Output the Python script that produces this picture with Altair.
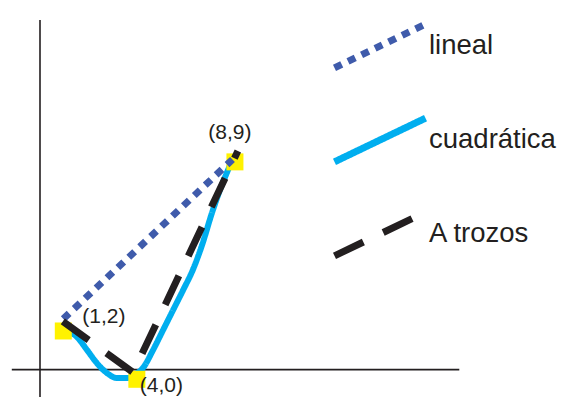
import altair as alt
import pandas as pd

# ---- data ----
series_names = ["lineal", "cuadrática", "A trozos"]
series_colors = ["#3f5bab", "#00aeef", "#231f20"]

lineal_x = [1.0, 7.9]
lineal_y = [2.5, 9.1]

cuad_x = [1.11, 1.56, 1.97, 2.37, 2.78, 3.19, 3.60, 3.96, 4.25, 4.66, 5.07, 5.48, 5.89, 6.30, 6.66, 7.06, 7.39, 7.72, 7.95]
cuad_y = [2.04, 1.75, 1.21, 0.67, 0.26, 0.05, 0.05, 0.22, 0.47, 1.21, 2.04, 2.87, 3.70, 4.57, 5.56, 6.88, 7.84, 8.67, 9.22]

trozos_x = [0.98, 3.85, 8.12]
trozos_y = [2.40, 0.28, 9.45]

point_x = [1, 4, 8]
point_y = [2, 0, 9]
point_labels = ["(1,2)", "(4,0)", "(8,9)"]

axis_v = {"x": [0.05], "y": [-1.0], "y2": [14.87]}
axis_h = {"y": [0.40], "x": [-1.10], "x2": [17.15]}

# ---- tables ----
lines_df = pd.concat([
    pd.DataFrame({"x": lineal_x, "y": lineal_y, "series": "lineal", "o": range(len(lineal_x))}),
    pd.DataFrame({"x": trozos_x, "y": trozos_y, "series": "A trozos", "o": range(len(trozos_x))}),
], ignore_index=True)
cuad_df = pd.DataFrame({"x": cuad_x, "y": cuad_y, "series": "cuadrática", "o": range(len(cuad_x))})
pts_df = pd.DataFrame({"x": point_x, "y": point_y, "label": point_labels})

FONT = "Liberation Sans"
INK = "#231f20"

xs = alt.Scale(domain=[-1.255, 21.257], nice=False, zero=False)
ys = alt.Scale(domain=[-0.733, 15.37], nice=False, zero=False)

leg = alt.Legend(
    orient="none", legendX=323, legendY=-11, title=None, padding=0,
    symbolType="M-1,0.48L1,-0.48", symbolSize=8281, symbolStrokeWidth=7,
    labelFontSize=27.5, labelFont=FONT, labelColor=INK, labelOffset=0,
    rowPadding=9, labelLimit=300,
)
color = alt.Color("series:N", scale=alt.Scale(domain=series_names, range=series_colors), legend=leg)
dash = alt.StrokeDash("series:N", scale=alt.Scale(domain=series_names, range=[[8, 7], [1, 0], [32, 22]]), legend=leg)

v_rule = alt.Chart(pd.DataFrame(axis_v)).mark_rule(color=INK, strokeWidth=1.6).encode(
    x=alt.X("x:Q", scale=xs, axis=None),
    y=alt.Y("y:Q", scale=ys, axis=None),
    y2="y2:Q",
)
h_rule = alt.Chart(pd.DataFrame(axis_h)).mark_rule(color=INK, strokeWidth=1.6).encode(
    y=alt.Y("y:Q", scale=ys, axis=None),
    x=alt.X("x:Q", scale=xs, axis=None),
    x2="x2:Q",
)

cuad_line = alt.Chart(cuad_df).mark_line(strokeWidth=6, interpolate="monotone").encode(
    x=alt.X("x:Q", scale=xs, axis=None),
    y=alt.Y("y:Q", scale=ys, axis=None),
    color=color, strokeDash=dash, order="o:Q",
)

squares = alt.Chart(pts_df).mark_square(size=289, color="#fff200", opacity=1).encode(
    x=alt.X("x:Q", scale=xs, axis=None),
    y=alt.Y("y:Q", scale=ys, axis=None),
)

other_lines = alt.Chart(lines_df).mark_line(strokeWidth=7).encode(
    x=alt.X("x:Q", scale=xs, axis=None),
    y=alt.Y("y:Q", scale=ys, axis=None),
    color=color, strokeDash=dash, detail="series:N", order="o:Q",
)

def label_layer(lbl, **kw):
    return alt.Chart(pts_df).transform_filter(alt.datum.label == lbl).mark_text(
        font=FONT, fontSize=21, color=INK, baseline="middle", **kw
    ).encode(
        x=alt.X("x:Q", scale=xs, axis=None),
        y=alt.Y("y:Q", scale=ys, axis=None),
        text="label:N",
    )

t1 = label_layer("(1,2)", align="left", dx=19, dy=-14)
t2 = label_layer("(4,0)", align="left", dx=3, dy=7)
t3 = label_layer("(8,9)", align="center", dx=-5, dy=-29)

chart = alt.layer(v_rule, h_rule, cuad_line, squares, other_lines, t1, t2, t3).properties(
    width=552, height=389, padding=0,
    autosize=alt.AutoSizeParams(type="none"),
    background="white",
).configure_view(stroke=None)

chart.save("out.html", embed_options={"renderer": "svg", "actions": False})
